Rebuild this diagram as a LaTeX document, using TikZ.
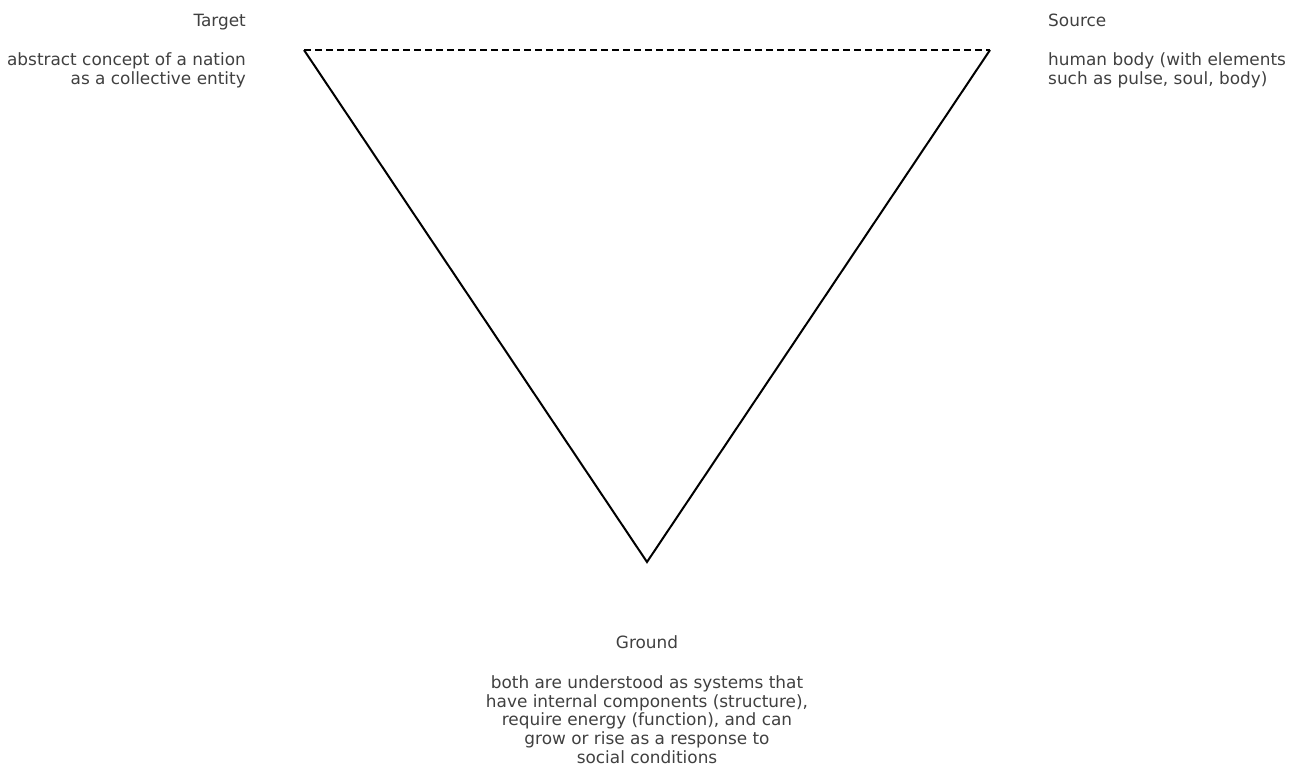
\documentclass[tikz,border=0pt]{standalone}
\usepackage{fontspec}
\setmainfont{DejaVu Sans}
\definecolor{txt}{HTML}{404040}
\begin{document}
\begin{tikzpicture}[x=1pt,y=-1pt,
  lbl/.style={inner sep=0pt,text=txt,font=\fontsize{16.9}{18.8}\selectfont},
  edge/.style={line width=2pt,black,line join=miter},
  dashedge/.style={edge,dash pattern=on 7pt off 4pt}]
\useasboundingbox (0,0) rectangle (1298,769);
\coordinate (T) at (304,50);
\coordinate (S) at (990,50);
\coordinate (G) at (647,562);
\draw[dashedge] (T) -- (S);
\draw[edge] (T) -- (G) -- (S);
\node[lbl,anchor=base east] (tt) at (246,26.2) {Target};
\node[lbl,anchor=east,align=right] (tb) at (246,70.5) {abstract concept of a nation\\as a collective entity};
\node[lbl,anchor=base west] (st) at (1048,26.2) {Source};
\node[lbl,anchor=west,align=left] (sb) at (1048,70.5) {human body (with elements\\such as pulse, soul, body)};
\node[lbl,anchor=base] (gt) at (647,648.2) {Ground};
\node[lbl,anchor=center,align=center] (gb) at (647,719.5) {both are understood as systems that\\have internal components (structure),\\require energy (function), and can\\grow or rise as a response to\\social conditions};
\end{tikzpicture}
\end{document}
